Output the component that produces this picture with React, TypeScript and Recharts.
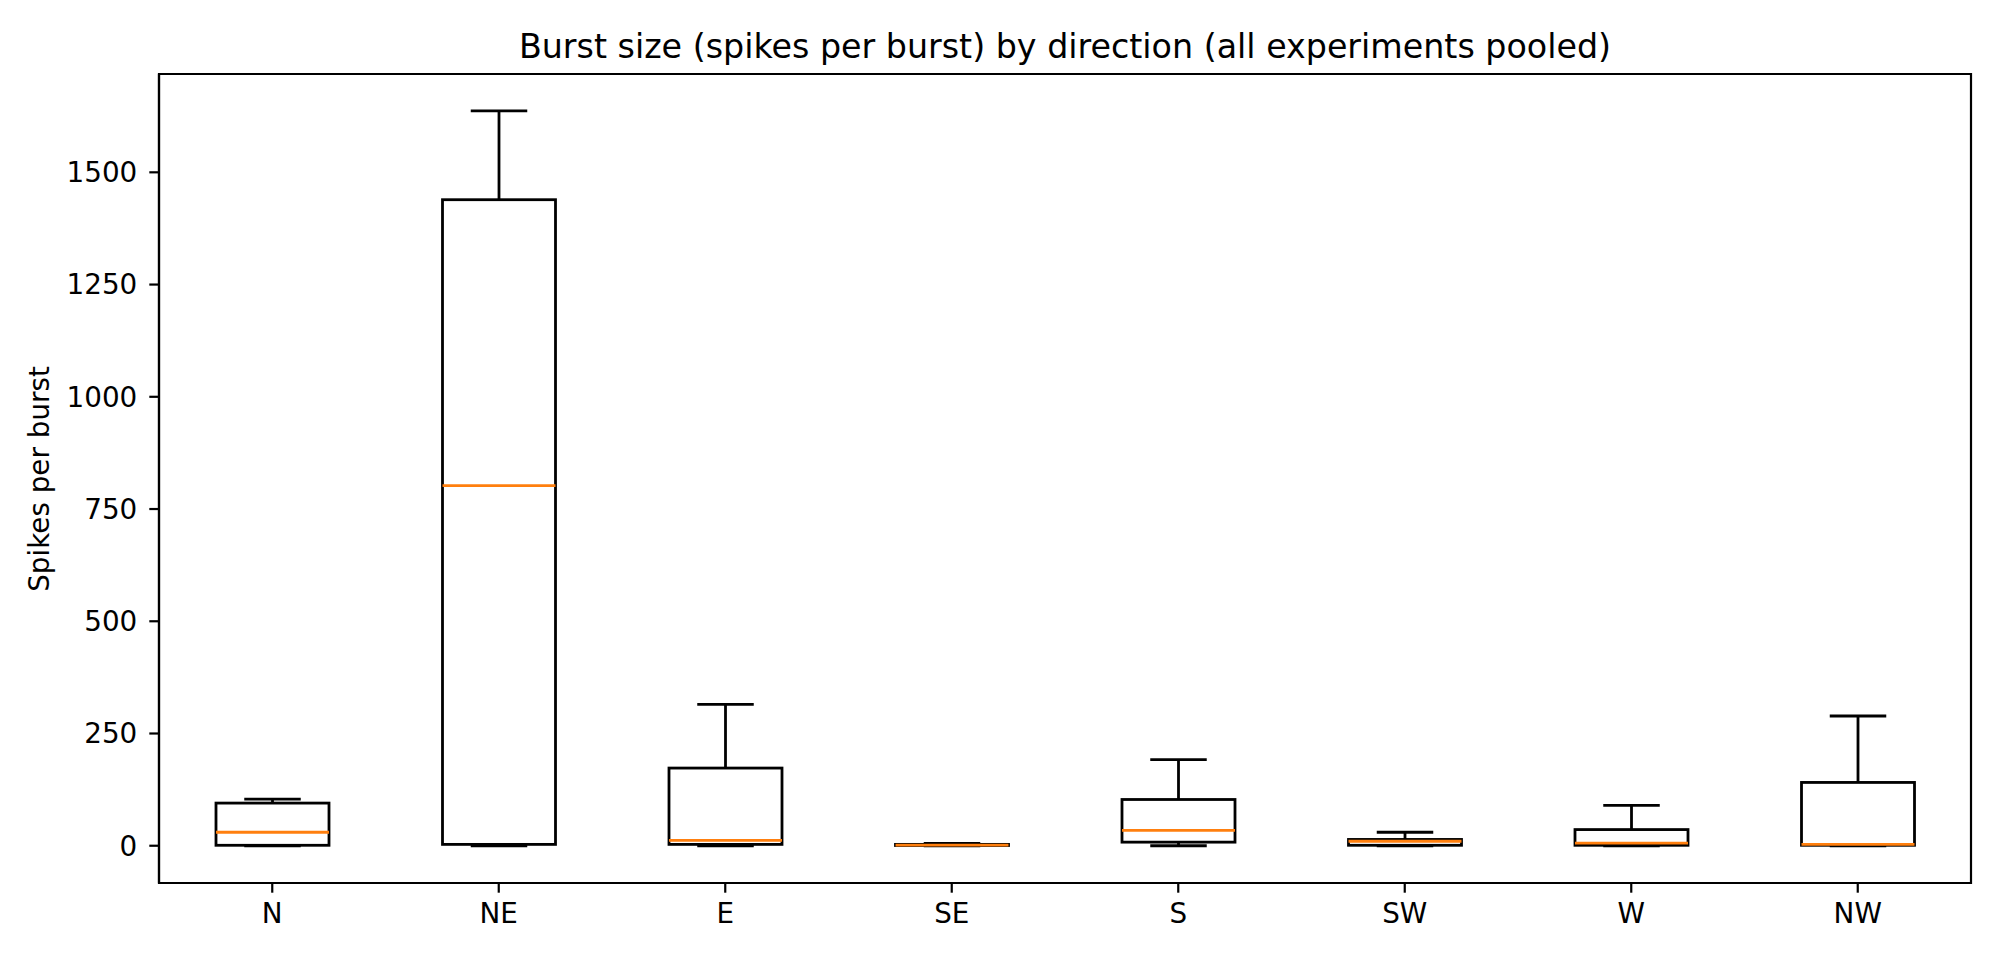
import React from 'react';
import { ComposedChart, Bar, XAxis, YAxis, ReferenceArea } from 'recharts';

const categories = ['N', 'NE', 'E', 'SE', 'S', 'SW', 'W', 'NW'];
const whiskerLow = [0, 0, 0, 0, 0, 0, 0, 0];
const q1Values = [1, 3, 3, 0.5, 8, 1, 1, 1];
const medianValues = [30, 802, 12, 1.5, 34, 10, 6, 3];
const q3Values = [95, 1439, 173, 3, 103, 14, 36, 141];
const whiskerHigh = [104, 1637, 315, 5, 192, 30, 90, 289];
const yTicks = [0, 250, 500, 750, 1000, 1250, 1500];
const yDomain = [-83, 1719];

const TITLE = 'Burst size (spikes per burst) by direction (all experiments pooled)';
const Y_LABEL = 'Spikes per burst';
const FONT = 'DejaVu Sans, sans-serif';

const data = categories.map((name, i) => ({
  name,
  low: whiskerLow[i],
  q1: q1Values[i],
  median: medianValues[i],
  q3: q3Values[i],
  high: whiskerHigh[i],
  range: [whiskerLow[i], whiskerHigh[i]],
}));

const LW = 2.8;

const BoxShape = (props: any) => {
  const { x, y, width, height, payload } = props;
  if (x == null || y == null || !payload) return null;
  const top = Math.min(y, y + height);
  const h = Math.abs(height);
  const lo = payload.low;
  const hi = payload.high;
  const k = hi - lo === 0 ? 0 : h / (hi - lo);
  const py = (v: number) => top + (hi - v) * k;
  const cx = x + width / 2;
  const half = width / 2;
  const capHalf = width / 4;
  const yq1 = py(payload.q1);
  const yq3 = py(payload.q3);
  const ymed = py(payload.median);
  const ylo = py(lo);
  const yhi = py(hi);
  return (
    <g>
      <line x1={cx} x2={cx} y1={yq3} y2={yhi} stroke="#000" strokeWidth={LW} />
      <line x1={cx} x2={cx} y1={yq1} y2={ylo} stroke="#000" strokeWidth={LW} />
      <line x1={cx - capHalf} x2={cx + capHalf} y1={yhi} y2={yhi} stroke="#000" strokeWidth={LW} />
      <line x1={cx - capHalf} x2={cx + capHalf} y1={ylo} y2={ylo} stroke="#000" strokeWidth={LW} />
      <rect x={cx - half} y={yq3} width={2 * half} height={Math.max(yq1 - yq3, 0)} fill="none" stroke="#000" strokeWidth={LW} />
      <line x1={cx - half} x2={cx + half} y1={ymed} y2={ymed} stroke="#ff7f0e" strokeWidth={LW} />
    </g>
  );
};

const tickStyle = { fontSize: 27.8, fill: '#000', fontFamily: FONT };

export default function App() {
  return (
    <div style={{ position: 'absolute', left: 0, top: 0, width: 2000, height: 960, background: '#fff' }}>
      <ComposedChart
        width={2000}
        height={960}
        data={data}
        margin={{ top: 74, right: 29, bottom: 37, left: 79 }}
        barSize={113}
      >
        <XAxis
          dataKey="name"
          type="category"
          height={40}
          tickSize={9.7}
          tickMargin={11}
          tick={tickStyle}
          axisLine={{ stroke: '#000', strokeWidth: 2.2 }}
          tickLine={{ stroke: '#000', strokeWidth: 2.2 }}
          interval={0}
        />
        <YAxis
          type="number"
          domain={yDomain}
          ticks={yTicks}
          allowDataOverflow
          width={80}
          tickSize={9.7}
          tickMargin={12}
          tick={tickStyle}
          axisLine={{ stroke: '#000', strokeWidth: 2.2 }}
          tickLine={{ stroke: '#000', strokeWidth: 2.2 }}
        />
        <ReferenceArea
          y1={yDomain[0]}
          y2={yDomain[1]}
          fill="none"
          fillOpacity={0}
          stroke="#000"
          strokeWidth={2.2}
          ifOverflow="visible"
        />
        <Bar dataKey="range" shape={BoxShape} isAnimationActive={false} />
        <text x={1065} y={58} textAnchor="middle" fontSize={33.3} fontFamily={FONT} fill="#000">
          {TITLE}
        </text>
        <text
          x={48.5}
          y={479}
          textAnchor="middle"
          fontSize={27.8}
          fontFamily={FONT}
          fill="#000"
          transform="rotate(-90 48.5 479)"
        >
          {Y_LABEL}
        </text>
      </ComposedChart>
    </div>
  );
}
